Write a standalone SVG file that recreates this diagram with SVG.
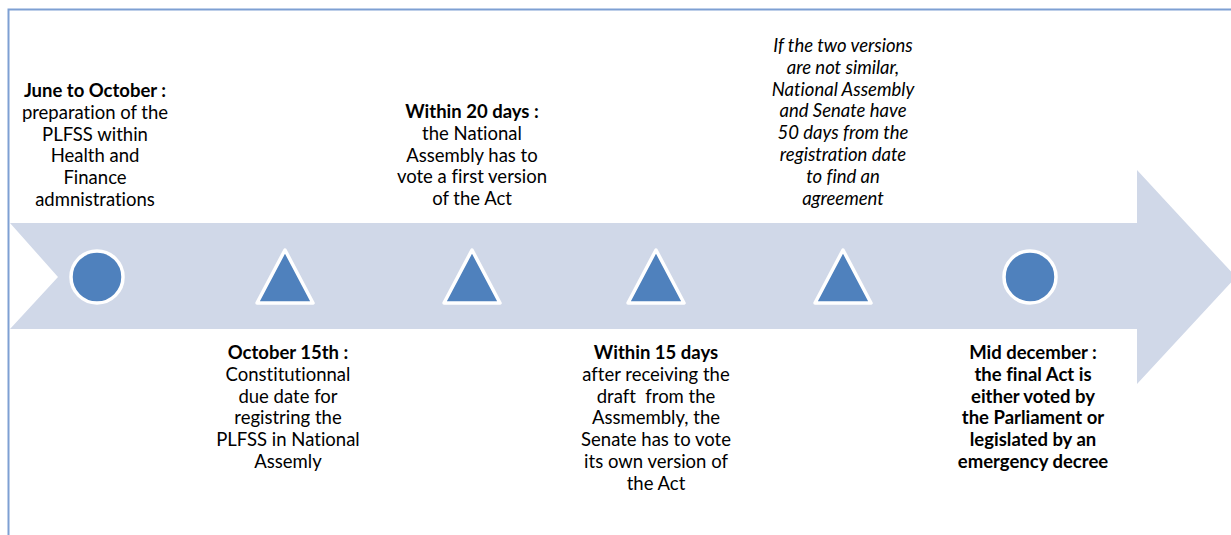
<svg xmlns="http://www.w3.org/2000/svg" width="1231" height="535" viewBox="0 0 1231 535">
<style>
.t{font-family:Lato,"Liberation Sans",sans-serif;font-size:18.5px;fill:#000;text-anchor:middle;font-variant-ligatures:none}
.b{font-weight:bold}
.i{font-style:italic}
.mk{fill:#4F81BD;stroke:#fff;stroke-width:3.5;stroke-linejoin:round}
.frame{fill:none;stroke:#7EA0D3;stroke-width:2}
</style>
<rect width="1231" height="535" fill="#fff"/>
<path class="frame" d="M8.5 535 V9.5 H1231"/>
<g id="timeline-arrow">
<path d="M10 223 H1137 V170 L1236 277 L1137 384 V329 H10 L58 277 Z" fill="#D0D8E8"/>
</g>
<g id="connectors"></g>
<g id="n1">
<circle class="mk" cx="97" cy="277" r="26"/>
<text class="t" x="95" y="97"><tspan class="b">June to October :</tspan><tspan x="95" dy="21.8">preparation of the</tspan><tspan x="95" dy="21.8">PLFSS within</tspan><tspan x="95" dy="21.8">Health and</tspan><tspan x="95" dy="21.8">Finance</tspan><tspan x="95" dy="21.8">admnistrations</tspan></text>
</g>
<g id="n2">
<polygon class="mk" points="285,250 313,303 257,303"/>
<text class="t" x="288" y="359"><tspan class="b">October 15th :</tspan><tspan x="288" dy="21.8">Constitutionnal</tspan><tspan x="288" dy="21.8">due date for</tspan><tspan x="288" dy="21.8">registring the</tspan><tspan x="288" dy="21.8">PLFSS in National</tspan><tspan x="288" dy="21.8">Assemly</tspan></text>
</g>
<g id="n3">
<polygon class="mk" points="472,250 500,303 444,303"/>
<text class="t" x="472" y="118"><tspan class="b">Within 20 days :</tspan><tspan x="472" dy="21.8">the National</tspan><tspan x="472" dy="21.8">Assembly has to</tspan><tspan x="472" dy="21.8">vote a first version</tspan><tspan x="472" dy="21.8">of the Act</tspan></text>
</g>
<g id="n4">
<polygon class="mk" points="656,250 684,303 628,303"/>
<text class="t" x="656" y="359"><tspan class="b">Within 15 days</tspan><tspan x="656" dy="21.8">after receiving the</tspan><tspan x="656" dy="21.8" xml:space="preserve">draft  from the</tspan><tspan x="656" dy="21.8">Assmembly, the</tspan><tspan x="656" dy="21.8">Senate has to vote</tspan><tspan x="656" dy="21.8">its own version of</tspan><tspan x="656" dy="21.8">the Act</tspan></text>
</g>
<g id="n5">
<polygon class="mk" points="843,250 871,303 815,303"/>
<text class="t i" x="843" y="52"><tspan>If the two versions</tspan><tspan x="843" dy="21.8">are not similar,</tspan><tspan x="843" dy="21.8">National Assembly</tspan><tspan x="843" dy="21.8">and Senate have</tspan><tspan x="843" dy="21.8">50 days from the</tspan><tspan x="843" dy="21.8">registration date</tspan><tspan x="843" dy="21.8">to find an</tspan><tspan x="843" dy="21.8">agreement</tspan></text>
</g>
<g id="n6">
<circle class="mk" cx="1030" cy="277" r="26"/>
<text class="t b" x="1033" y="359"><tspan>Mid december :</tspan><tspan x="1033" dy="21.8">the final Act is</tspan><tspan x="1033" dy="21.8">either voted by</tspan><tspan x="1033" dy="21.8">the Parliament or</tspan><tspan x="1033" dy="21.8">legislated by an</tspan><tspan x="1033" dy="21.8">emergency decree</tspan></text>
</g>
</svg>
